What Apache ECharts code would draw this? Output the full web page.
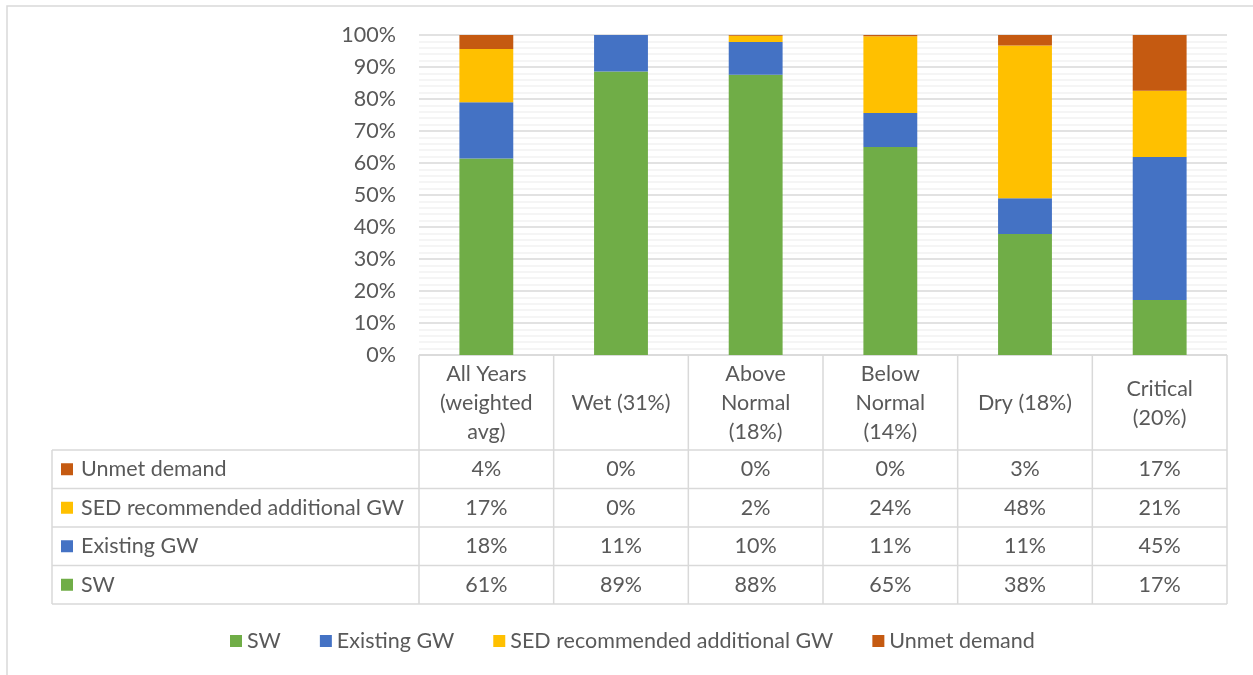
<!DOCTYPE html>
<html>
<head>
<meta charset="utf-8">
<script src="https://cdn.jsdelivr.net/npm/echarts@6/dist/echarts.min.js"></script>
<style>
html,body{margin:0;padding:0;background:#fff;}
#chart{width:1253px;height:675px;}
</style>
</head>
<body>
<div id="chart"></div>
<script>
// ---- data ----
var categories = ['All Years\n(weighted\navg)', 'Wet (31%)', 'Above\nNormal\n(18%)', 'Below\nNormal\n(14%)', 'Dry (18%)', 'Critical\n(20%)'];
var seriesNames = ['SW', 'Existing GW', 'SED recommended additional GW', 'Unmet demand'];
var swValues = [61.4, 88.6, 87.6, 65.0, 37.8, 17.2];
var existingGwValues = [17.6, 11.4, 10.2, 10.6, 11.2, 44.7];
var sedGwValues = [16.6, 0.0, 2.0, 24.0, 47.7, 20.7];
var unmetValues = [4.4, 0.0, 0.2, 0.4, 3.3, 17.4];
var yTicks = [0, 10, 20, 30, 40, 50, 60, 70, 80, 90, 100];

var colors = ['#70AD47', '#4472C4', '#FFC000', '#C55A11'];
var textColor = '#595959';
var lineColor = '#D9D9D9';
var FONT = 'Lato';
var FS = 21.5;

var allValues = [swValues, existingGwValues, sedGwValues, unmetValues];

var chart = echarts.init(document.getElementById('chart'), null, {renderer: 'canvas'});

var gridLeft = 419, gridRight = 26, gridTop = 35, gridBottom = 320;

var series = seriesNames.map(function (name, i) {
  return {
    name: name,
    type: 'bar',
    stack: 'total',
    barWidth: '40%',
    itemStyle: {color: colors[i]},
    data: allValues[i]
  };
});

var option = {
  animation: false,
  color: colors,
  textStyle: {fontFamily: FONT},
  grid: {left: gridLeft, right: gridRight, top: gridTop, bottom: gridBottom, containLabel: false},
  xAxis: {
    type: 'category',
    data: categories,
    axisLine: {show: false},
    axisTick: {show: false},
    axisLabel: {show: false},
    splitLine: {show: false}
  },
  yAxis: {
    type: 'value',
    min: yTicks[0],
    max: yTicks[yTicks.length - 1],
    interval: yTicks[1] - yTicks[0],
    axisLine: {show: false},
    axisTick: {show: false},
    axisLabel: {
      formatter: '{value}%',
      color: textColor,
      fontSize: FS,
      fontFamily: FONT,
      margin: 23
    },
    splitLine: {show: true, lineStyle: {color: lineColor, width: 1.5}},
    minorTick: {show: false, splitNumber: 5},
    minorSplitLine: {show: true, lineStyle: {color: '#F2F2F2', width: 1.5}}
  },
  legend: {
    top: 625,
    left: 225,
    itemWidth: 12,
    itemHeight: 12,
    itemGap: 39,
    icon: 'rect',
    textStyle: {color: textColor, fontSize: FS, fontFamily: FONT},
    data: seriesNames
  },
  series: series
};
chart.setOption(option);

// ---- data table (graphic) ----
function buildTable() {
  var n = categories.length;
  var plotW = 1253 - gridLeft - gridRight;
  var band = plotW / n;
  var yTop = 675 - gridBottom;
  var headerH = 95;
  var rowH = 38.5;
  var tableLeft = 52;
  var tableRight = gridLeft + plotW;
  var rowsTop = yTop + headerH;
  var rowOrder = [3, 2, 1, 0];
  var els = [];
  var ls = {stroke: lineColor, lineWidth: 1.5};
  var font = FS + 'px "' + FONT + '"';

  // outer border of the chart area
  els.push({type: 'rect', shape: {x: 7, y: 6, width: 1300, height: 800}, style: {fill: null, stroke: lineColor, lineWidth: 1.5}, silent: true});

  els.push({type: 'line', shape: {x1: gridLeft, y1: yTop, x2: tableRight, y2: yTop}, style: ls});
  for (var c = 0; c <= n; c++) {
    var x = gridLeft + band * c;
    els.push({type: 'line', shape: {x1: x, y1: yTop, x2: x, y2: rowsTop + rowH * 4}, style: ls});
  }
  els.push({type: 'line', shape: {x1: tableLeft, y1: rowsTop, x2: tableLeft, y2: rowsTop + rowH * 4}, style: ls});
  for (var r = 0; r <= 4; r++) {
    var y = rowsTop + rowH * r;
    els.push({type: 'line', shape: {x1: tableLeft, y1: y, x2: tableRight, y2: y}, style: ls});
  }
  for (var c2 = 0; c2 < n; c2++) {
    var cx = chart.convertToPixel({xAxisIndex: 0}, c2);
    els.push({type: 'text', x: cx, y: yTop + headerH / 2 + 1, style: {text: categories[c2], fill: textColor, font: font, align: 'center', verticalAlign: 'middle', lineHeight: 29}});
  }
  rowOrder.forEach(function (si, r) {
    var cy = rowsTop + rowH * r + rowH / 2;
    els.push({type: 'rect', shape: {x: 61, y: cy - 6, width: 12, height: 12}, style: {fill: colors[si]}});
    els.push({type: 'text', x: 81, y: cy, style: {text: seriesNames[si], fill: textColor, font: font, align: 'left', verticalAlign: 'middle'}});
    for (var c3 = 0; c3 < n; c3++) {
      var cx3 = chart.convertToPixel({xAxisIndex: 0}, c3);
      els.push({type: 'text', x: cx3, y: cy, style: {text: Math.round(allValues[si][c3]) + '%', fill: textColor, font: font, align: 'center', verticalAlign: 'middle'}});
    }
  });
  chart.setOption({graphic: {elements: els}});
}
buildTable();
</script>
</body>
</html>
